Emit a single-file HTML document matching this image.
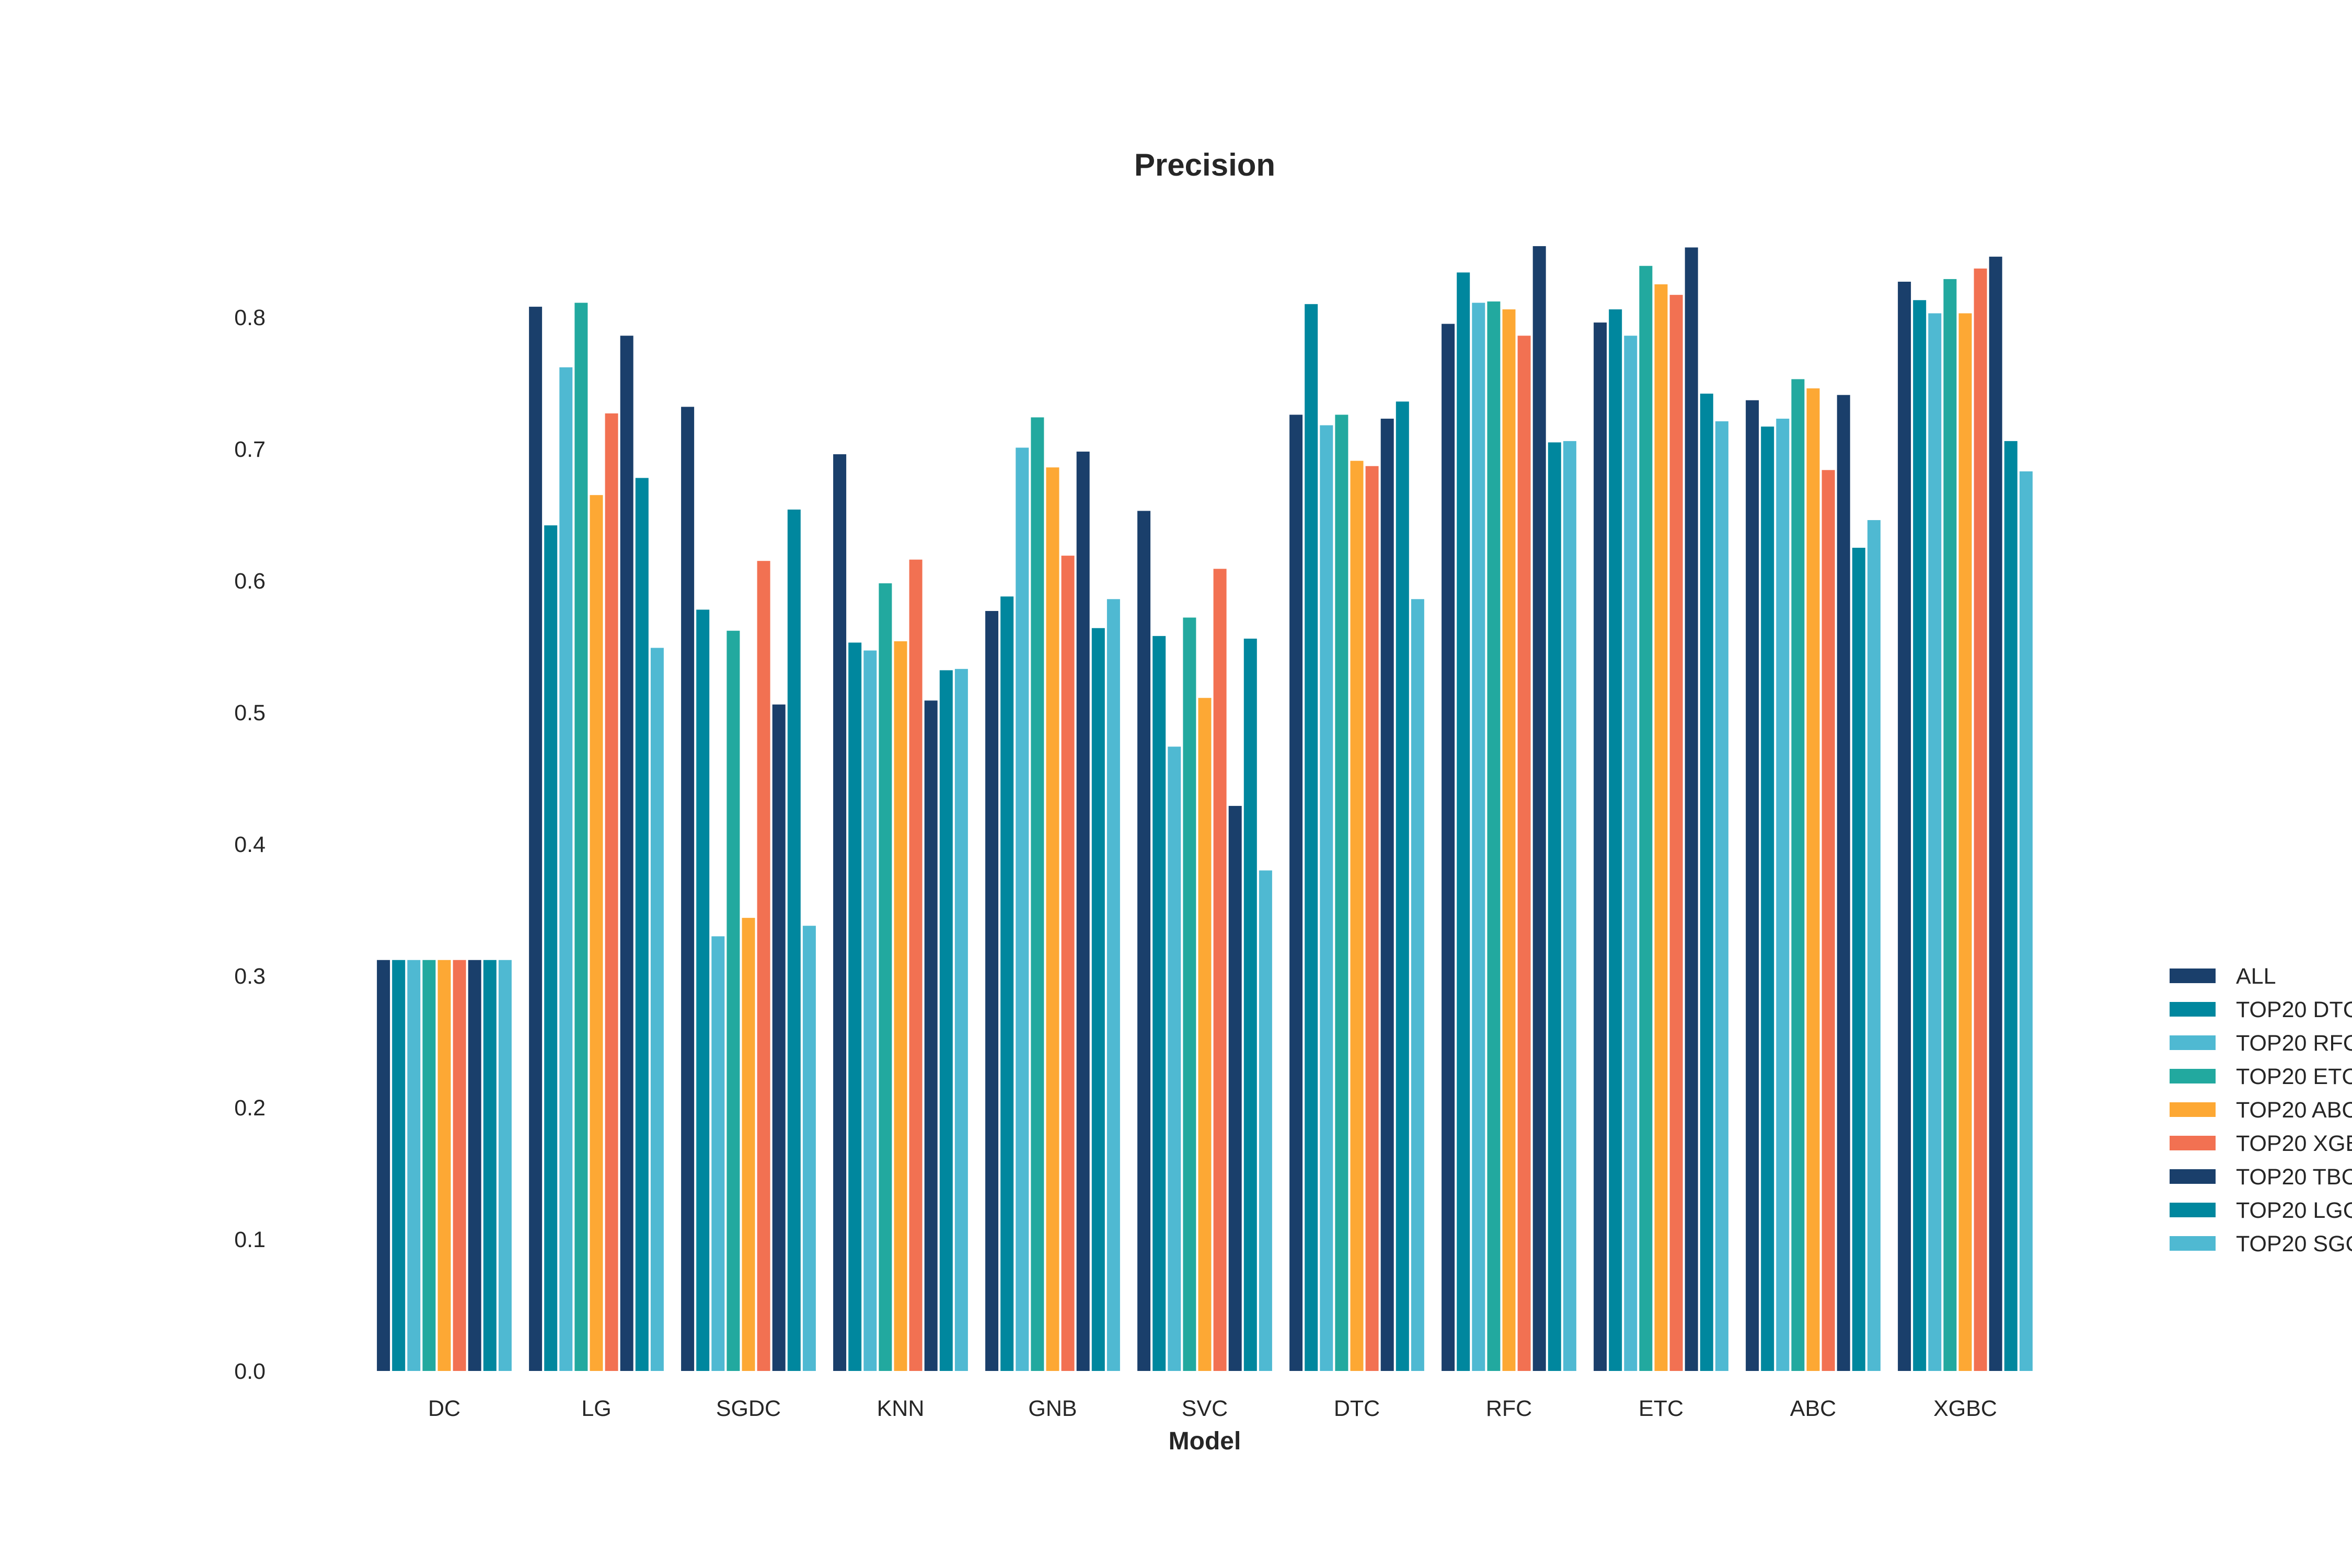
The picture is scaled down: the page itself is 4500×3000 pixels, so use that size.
<!DOCTYPE html>
<html><head><meta charset="utf-8"><style>
html,body{margin:0;padding:0;background:#fff;}
svg{display:block;font-family:"Liberation Sans",Arial,sans-serif;}
</style></head><body>
<svg id="chart" width="4500" height="3000" viewBox="0 0 4500 3000" xmlns="http://www.w3.org/2000/svg">
<rect width="4500" height="3000" fill="#fff"/>
<text x="2305" y="336" text-anchor="middle" font-size="60" font-weight="bold" fill="#262626">Precision</text>
<text x="2305" y="2773" text-anchor="middle" font-size="48" font-weight="bold" fill="#262626">Model</text>
<g id="yticks"></g><g id="bars"></g><g id="xticks"></g><g id="legend"></g>
</svg>
<script>
const categories = ["DC","LG","SGDC","KNN","GNB","SVC","DTC","RFC","ETC","ABC","XGBC"];
const seriesNames = ["ALL","TOP20 DTC","TOP20 RFC","TOP20 ETC","TOP20 ABC","TOP20 XGBC","TOP20 TBC","TOP20 LGC","TOP20 SGC"];
const seriesColors = ["#1a3f6b","#00879e","#4fb9d2","#22a99f","#fda834","#f27152","#1a3f6b","#00879e","#4fb9d2"];
const sALL  = [0.312,0.808,0.732,0.696,0.577,0.653,0.726,0.795,0.796,0.737,0.827];
const sDTC  = [0.312,0.642,0.578,0.553,0.588,0.558,0.810,0.834,0.806,0.717,0.813];
const sRFC  = [0.312,0.762,0.330,0.547,0.701,0.474,0.718,0.811,0.786,0.723,0.803];
const sETC  = [0.312,0.811,0.562,0.598,0.724,0.572,0.726,0.812,0.839,0.753,0.829];
const sABC  = [0.312,0.665,0.344,0.554,0.686,0.511,0.691,0.806,0.825,0.746,0.803];
const sXGB  = [0.312,0.727,0.615,0.616,0.619,0.609,0.687,0.786,0.817,0.684,0.837];
const sTBC  = [0.312,0.786,0.506,0.509,0.698,0.429,0.723,0.854,0.853,0.741,0.846];
const sLGC  = [0.312,0.678,0.654,0.532,0.564,0.556,0.736,0.705,0.742,0.625,0.706];
const sSGC  = [0.312,0.549,0.338,0.533,0.586,0.380,0.586,0.706,0.721,0.646,0.683];
const yTicks = [0.0,0.1,0.2,0.3,0.4,0.5,0.6,0.7,0.8];
const series = [sALL,sDTC,sRFC,sETC,sABC,sXGB,sTBC,sLGC,sSGC];

const NS = "http://www.w3.org/2000/svg";
const y0 = 2623, pxPerUnit = 2520;
function yScale(v){ return y0 - v*pxPerUnit; }
const groupStart = 850, groupStep = 291, barPitch = 29.1, barW = 25;
function xCenter(ci, si){ return groupStart + ci*groupStep + (si - (series.length-1)/2)*barPitch; }
function mk(tag, attrs, parent){ const e=document.createElementNS(NS,tag); for(const k in attrs) e.setAttribute(k,attrs[k]); parent.appendChild(e); return e; }

const yg = document.getElementById('yticks');
yTicks.forEach(t=>{
  const e = mk('text',{x:508,y:yScale(t)+15,'text-anchor':'end','font-size':43,fill:'#262626'},yg);
  
  
  e.textContent = t.toFixed(1);
});
const bg = document.getElementById('bars');
series.forEach((s,si)=>{
  s.forEach((v,ci)=>{
    const r = mk('rect',{x:xCenter(ci,si)-barW/2,y:yScale(v),width:barW,height:y0-yScale(v),fill:seriesColors[si]},bg);
    
    
  });
});
const xg = document.getElementById('xticks');
categories.forEach((c,ci)=>{
  const e = mk('text',{x:groupStart+ci*groupStep,y:2709,'text-anchor':'middle','font-size':43,fill:'#262626'},xg);
  
  
  e.textContent = c;
});
const lg = document.getElementById('legend');
seriesNames.forEach((n,i)=>{
  const yc = 1867 + i*64;
  const g = mk('g',{},lg);
  
  
  mk('rect',{x:4151,y:yc-14,width:88,height:28,fill:seriesColors[i]},g);
  const t = mk('text',{x:4278,y:yc+15,'font-size':43,fill:'#262626'},g);
  t.textContent = n;
});
</script>
</body></html>
